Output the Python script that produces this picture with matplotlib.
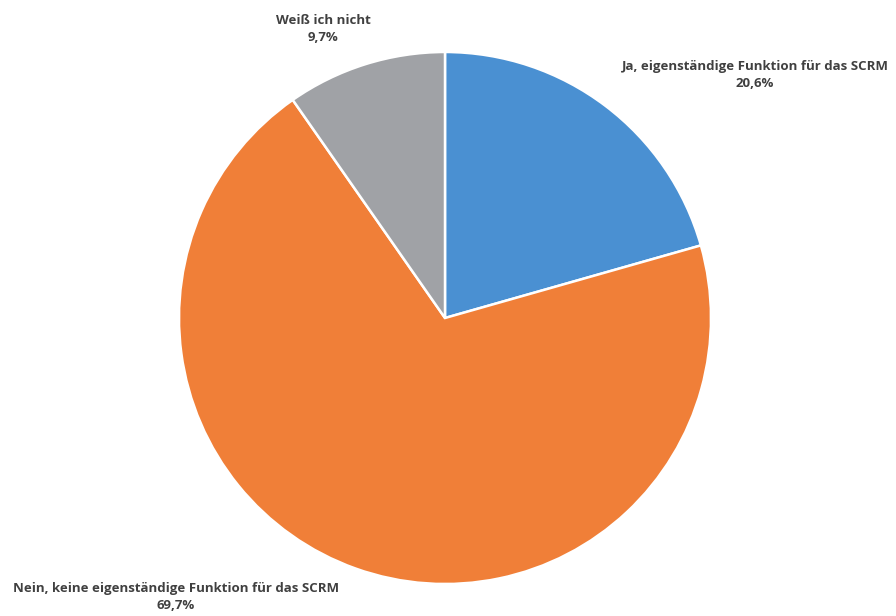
import matplotlib.pyplot as plt

# Survey answers: dedicated SCRM function?
labels = ["Ja, eigenständige Funktion für das SCRM",
          "Nein, keine eigenständige Funktion für das SCRM",
          "Weiß ich nicht"]
shares = [20.6, 69.7, 9.7]
share_text = ["20,6%", "69,7%", "9,7%"]
colors = ["#4A90D2", "#F07F38", "#A0A2A6"]

W, H = 896, 616
fig = plt.figure(figsize=(W / 100, H / 100), dpi=100)
ax = fig.add_axes([0, 0, 1, 1])
ax.set_xlim(0, W)
ax.set_ylim(0, H)
ax.set_aspect("equal")
ax.axis("off")

cx, cy, r = 445, H - 318, 266
ax.pie(shares, colors=colors, startangle=90, counterclock=False,
       center=(cx, cy), radius=r, frame=True,
       wedgeprops=dict(edgecolor="white", linewidth=1.8))
ax.set_xlim(0, W)
ax.set_ylim(0, H)
ax.axis("off")

label_pos = [(755, H - 75), (176, H - 597), (323, H - 29)]
for lab, txt, (x, y) in zip(labels, share_text, label_pos):
    ax.text(x, y, f"{lab}\n{txt}", ha="center", va="center",
            fontsize=9.5, fontweight="bold", family="Open Sans",
            color="#404040", linespacing=1.45)

fig.savefig("out.png", dpi=100)
